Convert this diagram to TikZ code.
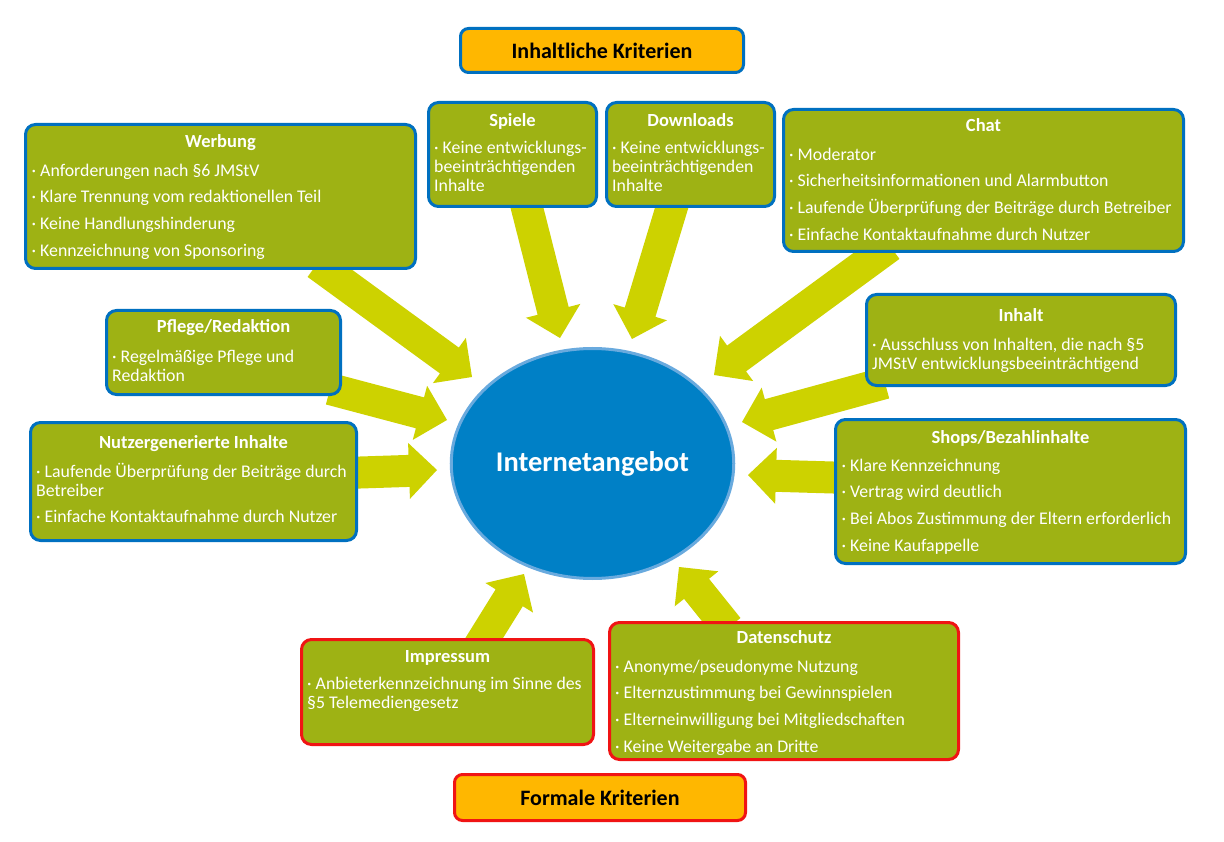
\documentclass[tikz,border=0pt]{standalone}
\usepackage{fontspec}
\setmainfont{Carlito}
\usetikzlibrary{calc,shapes.geometric}
\definecolor{boxgreen}{RGB}{158,178,20}
\definecolor{boxblue}{RGB}{0,112,192}
\definecolor{boxred}{RGB}{240,20,20}
\definecolor{hdrorange}{RGB}{255,183,0}
\definecolor{arrowgreen}{RGB}{205,210,0}
\definecolor{corefill}{RGB}{0,128,198}
\definecolor{coreedge}{RGB}{105,170,222}
\tikzset{
  critbox/.style={draw=boxblue, fill=boxgreen, line width=3pt, rounded corners=10pt, inner sep=0pt},
  redbox/.style={critbox, draw=boxred},
  boxtitle/.style={font=\fontsize{18.5}{22}\selectfont\bfseries, text=white, anchor=base, inner sep=0pt},
  boxbody/.style={font=\fontsize{17.8}{19}\selectfont, text=white, align=left, anchor=north west, inner sep=0pt},
  hdr/.style={fill=hdrorange, line width=3pt, rounded corners=8pt, font=\fontsize{22}{24}\selectfont\bfseries, text=black, inner sep=0pt},
  pointer/.style={fill=arrowgreen},
}
\newcommand\bs{\rule{0pt}{15pt}}
\newcommand\blockarrow[2]{%
  \coordinate (#2-h) at ($(#2)!28pt!(#1)$);
  \fill[pointer] ($(#1)!16pt!90:(#2)$) -- ($(#2-h)!16pt!90:(#2)$) -- ($(#2-h)!28pt!90:(#2)$) -- (#2)
    -- ($(#2-h)!28pt!-90:(#2)$) -- ($(#2-h)!16pt!-90:(#2)$) -- ($(#1)!16pt!-90:(#2)$) -- cycle;}
\begin{document}
\begin{tikzpicture}[x=1pt,y=-1pt]
\useasboundingbox (0,0) rectangle (1224,842);

% arrows (under the boxes)
\coordinate (wer-tail) at (317,264);  \coordinate (wer-tip) at (472,377);
\coordinate (spi-tail) at (525,200);  \coordinate (spi-tip) at (560,338);
\coordinate (dow-tail) at (674,200);  \coordinate (dow-tip) at (632,339);
\coordinate (cha-tail) at (890,246);  \coordinate (cha-tip) at (714,375);
\coordinate (inh-tail) at (885,383);  \coordinate (inh-tip) at (742,422);
\coordinate (pfl-tail) at (330,389);  \coordinate (pfl-tip) at (447,420);
\coordinate (nut-tail) at (345,473);  \coordinate (nut-tip) at (437,470);
\coordinate (sho-tail) at (850,478);  \coordinate (sho-tip) at (748,475);
\coordinate (imp-tail) at (478,648);  \coordinate (imp-tip) at (524,574);
\coordinate (dat-tail) at (728,628);  \coordinate (dat-tip) at (679,567);
\blockarrow{wer-tail}{wer-tip}
\blockarrow{spi-tail}{spi-tip}
\blockarrow{dow-tail}{dow-tip}
\blockarrow{cha-tail}{cha-tip}
\blockarrow{inh-tail}{inh-tip}
\blockarrow{pfl-tail}{pfl-tip}
\blockarrow{nut-tail}{nut-tip}
\blockarrow{sho-tail}{sho-tip}
\blockarrow{imp-tail}{imp-tip}
\blockarrow{dat-tail}{dat-tip}

% centre
\node[ellipse, fill=corefill, draw=coreedge, line width=3pt, minimum width=282pt, minimum height=230pt,
  font=\fontsize{28.5}{32}\selectfont\bfseries, text=white] (core) at (592.5,463.5) {Internetangebot};

% header boxes
\node[hdr, draw=boxblue, minimum width=283pt, minimum height=44pt] (inhaltlich) at (602,50.5) {Inhaltliche Kriterien};
\node[hdr, draw=boxred, minimum width=291pt, minimum height=46pt] (formal) at (600,797.5) {Formale Kriterien};

% criteria boxes
\node[critbox, minimum width=390pt, minimum height=144pt] (werbung) at (220.5,196.5) {};
\node[critbox, minimum width=168pt, minimum height=104pt] (spiele) at (512.5,154.5) {};
\node[critbox, minimum width=168pt, minimum height=104pt] (downloads) at (690.5,154.5) {};
\node[critbox, minimum width=400pt, minimum height=142pt] (chat) at (983.5,180.5) {};
\node[critbox, minimum width=309pt, minimum height=91pt] (inhalt) at (1021,340) {};
\node[critbox, minimum width=350pt, minimum height=144pt] (shops) at (1010.5,491.5) {};
\node[critbox, minimum width=234pt, minimum height=84pt] (pflege) at (223.5,352.5) {};
\node[critbox, minimum width=326pt, minimum height=118pt] (nutzer) at (193.5,481.5) {};
\node[redbox, minimum width=292pt, minimum height=105pt] (impressum) at (447.5,692) {};
\node[redbox, minimum width=349pt, minimum height=137pt] (datenschutz) at (784,691) {};

% titles
\node[boxtitle] (werbung-t) at (werbung.north |- 0,148) {Werbung};
\node[boxtitle] (spiele-t) at (spiele.north |- 0,127) {Spiele};
\node[boxtitle] (downloads-t) at (downloads.north |- 0,127) {Downloads};
\node[boxtitle] (chat-t) at (chat.north |- 0,132) {Chat};
\node[boxtitle] (inhalt-t) at (inhalt.north |- 0,322) {Inhalt};
\node[boxtitle] (shops-t) at (shops.north |- 0,443) {Shops/Bezahlinhalte};
\node[boxtitle] (pflege-t) at (pflege.north |- 0,333) {Pflege/Redaktion};
\node[boxtitle] (nutzer-t) at (nutzer.north |- 0,448) {Nutzergenerierte Inhalte};
\node[boxtitle] (impressum-t) at (impressum.north |- 0,662) {Impressum};
\node[boxtitle] (datenschutz-t) at (datenschutz.north |- 0,643) {Datenschutz};

% bodies
\node[boxbody] (werbung-b) at (31.5,161) {\bs· Anforderungen nach §6 JMStV\\[7.7pt]
  · Klare Trennung vom redaktionellen Teil\\[7.7pt]
  · Keine Handlungshinderung\\[7.7pt]
  · Kennzeichnung von Sponsoring};
\node[boxbody] (spiele-b) at (434,138) {\bs· Keine entwicklungs-\\beeinträchtigenden\\Inhalte};
\node[boxbody] (downloads-b) at (612,138) {\bs· Keine entwicklungs-\\beeinträchtigenden\\Inhalte};
\node[boxbody] (chat-b) at (789,145) {\bs· Moderator\\[7.7pt]
  · Sicherheitsinformationen und Alarmbutton\\[7.7pt]
  · Laufende Überprüfung der Beiträge durch Betreiber\\[7.7pt]
  · Einfache Kontaktaufnahme durch Nutzer};
\node[boxbody] (inhalt-b) at (872,335) {\bs· Ausschluss von Inhalten, die nach §5\\JMStV entwicklungsbeeinträchtigend};
\node[boxbody] (shops-b) at (841.5,456) {\bs· Klare Kennzeichnung\\[7.7pt]
  · Vertrag wird deutlich\\[7.7pt]
  · Bei Abos Zustimmung der Eltern erforderlich\\[7.7pt]
  · Keine Kaufappelle};
\node[boxbody] (pflege-b) at (112,347) {\bs· Regelmäßige Pflege und\\Redaktion};
\node[boxbody] (nutzer-b) at (36,462) {\bs· Laufende Überprüfung der Beiträge durch\\Betreiber\\[7.7pt]
  · Einfache Kontaktaufnahme durch Nutzer};
\node[boxbody] (impressum-b) at (307,674) {\bs· Anbieterkennzeichnung im Sinne des\\§5 Telemediengesetz};
\node[boxbody] (datenschutz-b) at (615,657) {\bs· Anonyme/pseudonyme Nutzung\\[7.7pt]
  · Elternzustimmung bei Gewinnspielen\\[7.7pt]
  · Elterneinwilligung bei Mitgliedschaften\\[7.7pt]
  · Keine Weitergabe an Dritte};
\end{tikzpicture}
\end{document}
